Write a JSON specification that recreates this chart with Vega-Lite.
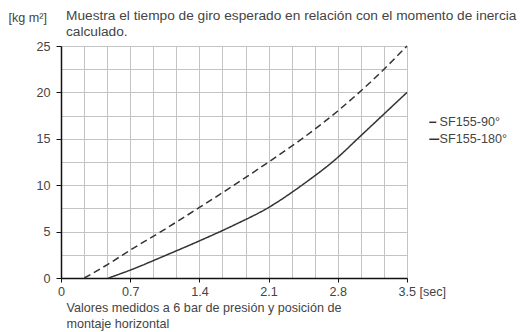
{
  "$schema": "https://vega.github.io/schema/vega-lite/v6.json",
  "width": 346,
  "height": 232,
  "autosize": "none",
  "padding": {"left": 61, "top": 46, "right": 120, "bottom": 54},
  "background": "white",
  "config": {
    "font": "Liberation Sans",
    "view": {"stroke": null},
    "axis": {"labelFont": "Liberation Sans", "labelFontSize": 12.6, "labelColor": "#444", "titleFont": "Liberation Sans", "titleFontSize": 12.6, "titleColor": "#444", "titleFontWeight": "normal", "gridColor": "#c4c4c4", "gridWidth": 1, "gridOpacity": 1, "domainColor": "#111", "tickColor": "#111"}
  },
  "title": {
    "text": ["Muestra el tiempo de giro esperado en relación con el momento de inercia", "calculado."],
    "anchor": "start",
    "frame": "group",
    "fontSize": 13.7,
    "fontWeight": "normal",
    "color": "#444",
    "lineHeight": 16,
    "dx": 5,
    "dy": 32,
    "offset": 4
  },
  "data": {
    "values": [
      {"series": "SF155-90°", "t": 0.236, "j": 0},
      {"series": "SF155-90°", "t": 0.47, "j": 1.45},
      {"series": "SF155-90°", "t": 0.7, "j": 3.0},
      {"series": "SF155-90°", "t": 1.05, "j": 5.25},
      {"series": "SF155-90°", "t": 1.4, "j": 7.6},
      {"series": "SF155-90°", "t": 1.75, "j": 10.0},
      {"series": "SF155-90°", "t": 2.1, "j": 12.5},
      {"series": "SF155-90°", "t": 2.45, "j": 15.1},
      {"series": "SF155-90°", "t": 2.8, "j": 18.0},
      {"series": "SF155-90°", "t": 3.15, "j": 21.3},
      {"series": "SF155-90°", "t": 3.5, "j": 25},
      {"series": "SF155-180°", "t": 0.48, "j": 0},
      {"series": "SF155-180°", "t": 0.7, "j": 0.85},
      {"series": "SF155-180°", "t": 1.05, "j": 2.4},
      {"series": "SF155-180°", "t": 1.4, "j": 4.0},
      {"series": "SF155-180°", "t": 1.75, "j": 5.7},
      {"series": "SF155-180°", "t": 2.1, "j": 7.6},
      {"series": "SF155-180°", "t": 2.45, "j": 10.1},
      {"series": "SF155-180°", "t": 2.8, "j": 13.0},
      {"series": "SF155-180°", "t": 3.0, "j": 15.0},
      {"series": "SF155-180°", "t": 3.24, "j": 17.4},
      {"series": "SF155-180°", "t": 3.5, "j": 20}
    ]
  },
  "mark": {"type": "line", "interpolate": "monotone", "color": "#333", "strokeWidth": 1.5},
  "encoding": {
    "x": {
      "field": "t", "type": "quantitative",
      "scale": {"domain": [0, 3.5], "nice": false, "zero": false},
      "axis": {
        "values": [0, 0.23333, 0.46667, 0.7, 0.93333, 1.16667, 1.4, 1.63333, 1.86667, 2.1, 2.33333, 2.56667, 2.8, 3.03333, 3.26667, 3.5],
        "labelExpr": "abs(round(datum.value/0.7)*0.7 - datum.value) < 0.01 ? (format(datum.value, '.1~f') + (datum.value > 3.4 ? ' [sec]' : '')) : ''",
        "labelAlign": {"condition": {"test": "datum.value > 3.4", "value": "left"}, "value": "center"},
        "labelOffset": {"condition": {"test": "datum.value > 3.4", "value": -9}, "value": 0},
        "tickOpacity": {"condition": {"test": "abs(round(datum.value/0.7)*0.7 - datum.value) < 0.01", "value": 1}, "value": 0},
        "labelFlush": false,
        "labelOverlap": false,
        "labelBound": false,
        "tickSize": 4,
        "labelPadding": 3,
        "domainWidth": 1.5,
        "title": ["Valores medidos a 6 bar de presión y posición de", "montaje horizontal"],
        "titleAnchor": "start",
        "titleAlign": "left",
        "titleX": 5,
        "titleY": 23,
        "titleBaseline": "top",
        "titleLineHeight": 16
      }
    },
    "y": {
      "field": "j", "type": "quantitative",
      "scale": {"domain": [0, 25], "nice": false},
      "axis": {
        "values": [0, 2.5, 5, 7.5, 10, 12.5, 15, 17.5, 20, 22.5, 25],
        "labelExpr": "datum.value % 5 == 0 ? datum.label : ''",
        "tickOpacity": {"condition": {"test": "datum.value % 5 == 0", "value": 1}, "value": 0},
        "tickSize": 5,
        "labelPadding": 6,
        "domainWidth": 1.5,
        "title": "[kg m²]",
        "titleAngle": 0,
        "titleAlign": "left",
        "titleBaseline": "middle",
        "titleX": -53,
        "titleY": -29
      }
    },
    "strokeDash": {
      "field": "series", "type": "nominal",
      "scale": {"domain": ["SF155-90°", "SF155-180°"], "range": [[7, 4], [1, 0]]},
      "legend": {
        "title": null,
        "orient": "none",
        "legendX": 367,
        "legendY": 70,
        "symbolType": "stroke",
        "symbolSize": 100,
        "symbolStrokeWidth": 1.5,
        "symbolStrokeColor": "#333",
        "labelFontSize": 12.6,
        "labelColor": "#444",
        "labelOffset": -1,
        "rowPadding": 4
      }
    }
  }
}
